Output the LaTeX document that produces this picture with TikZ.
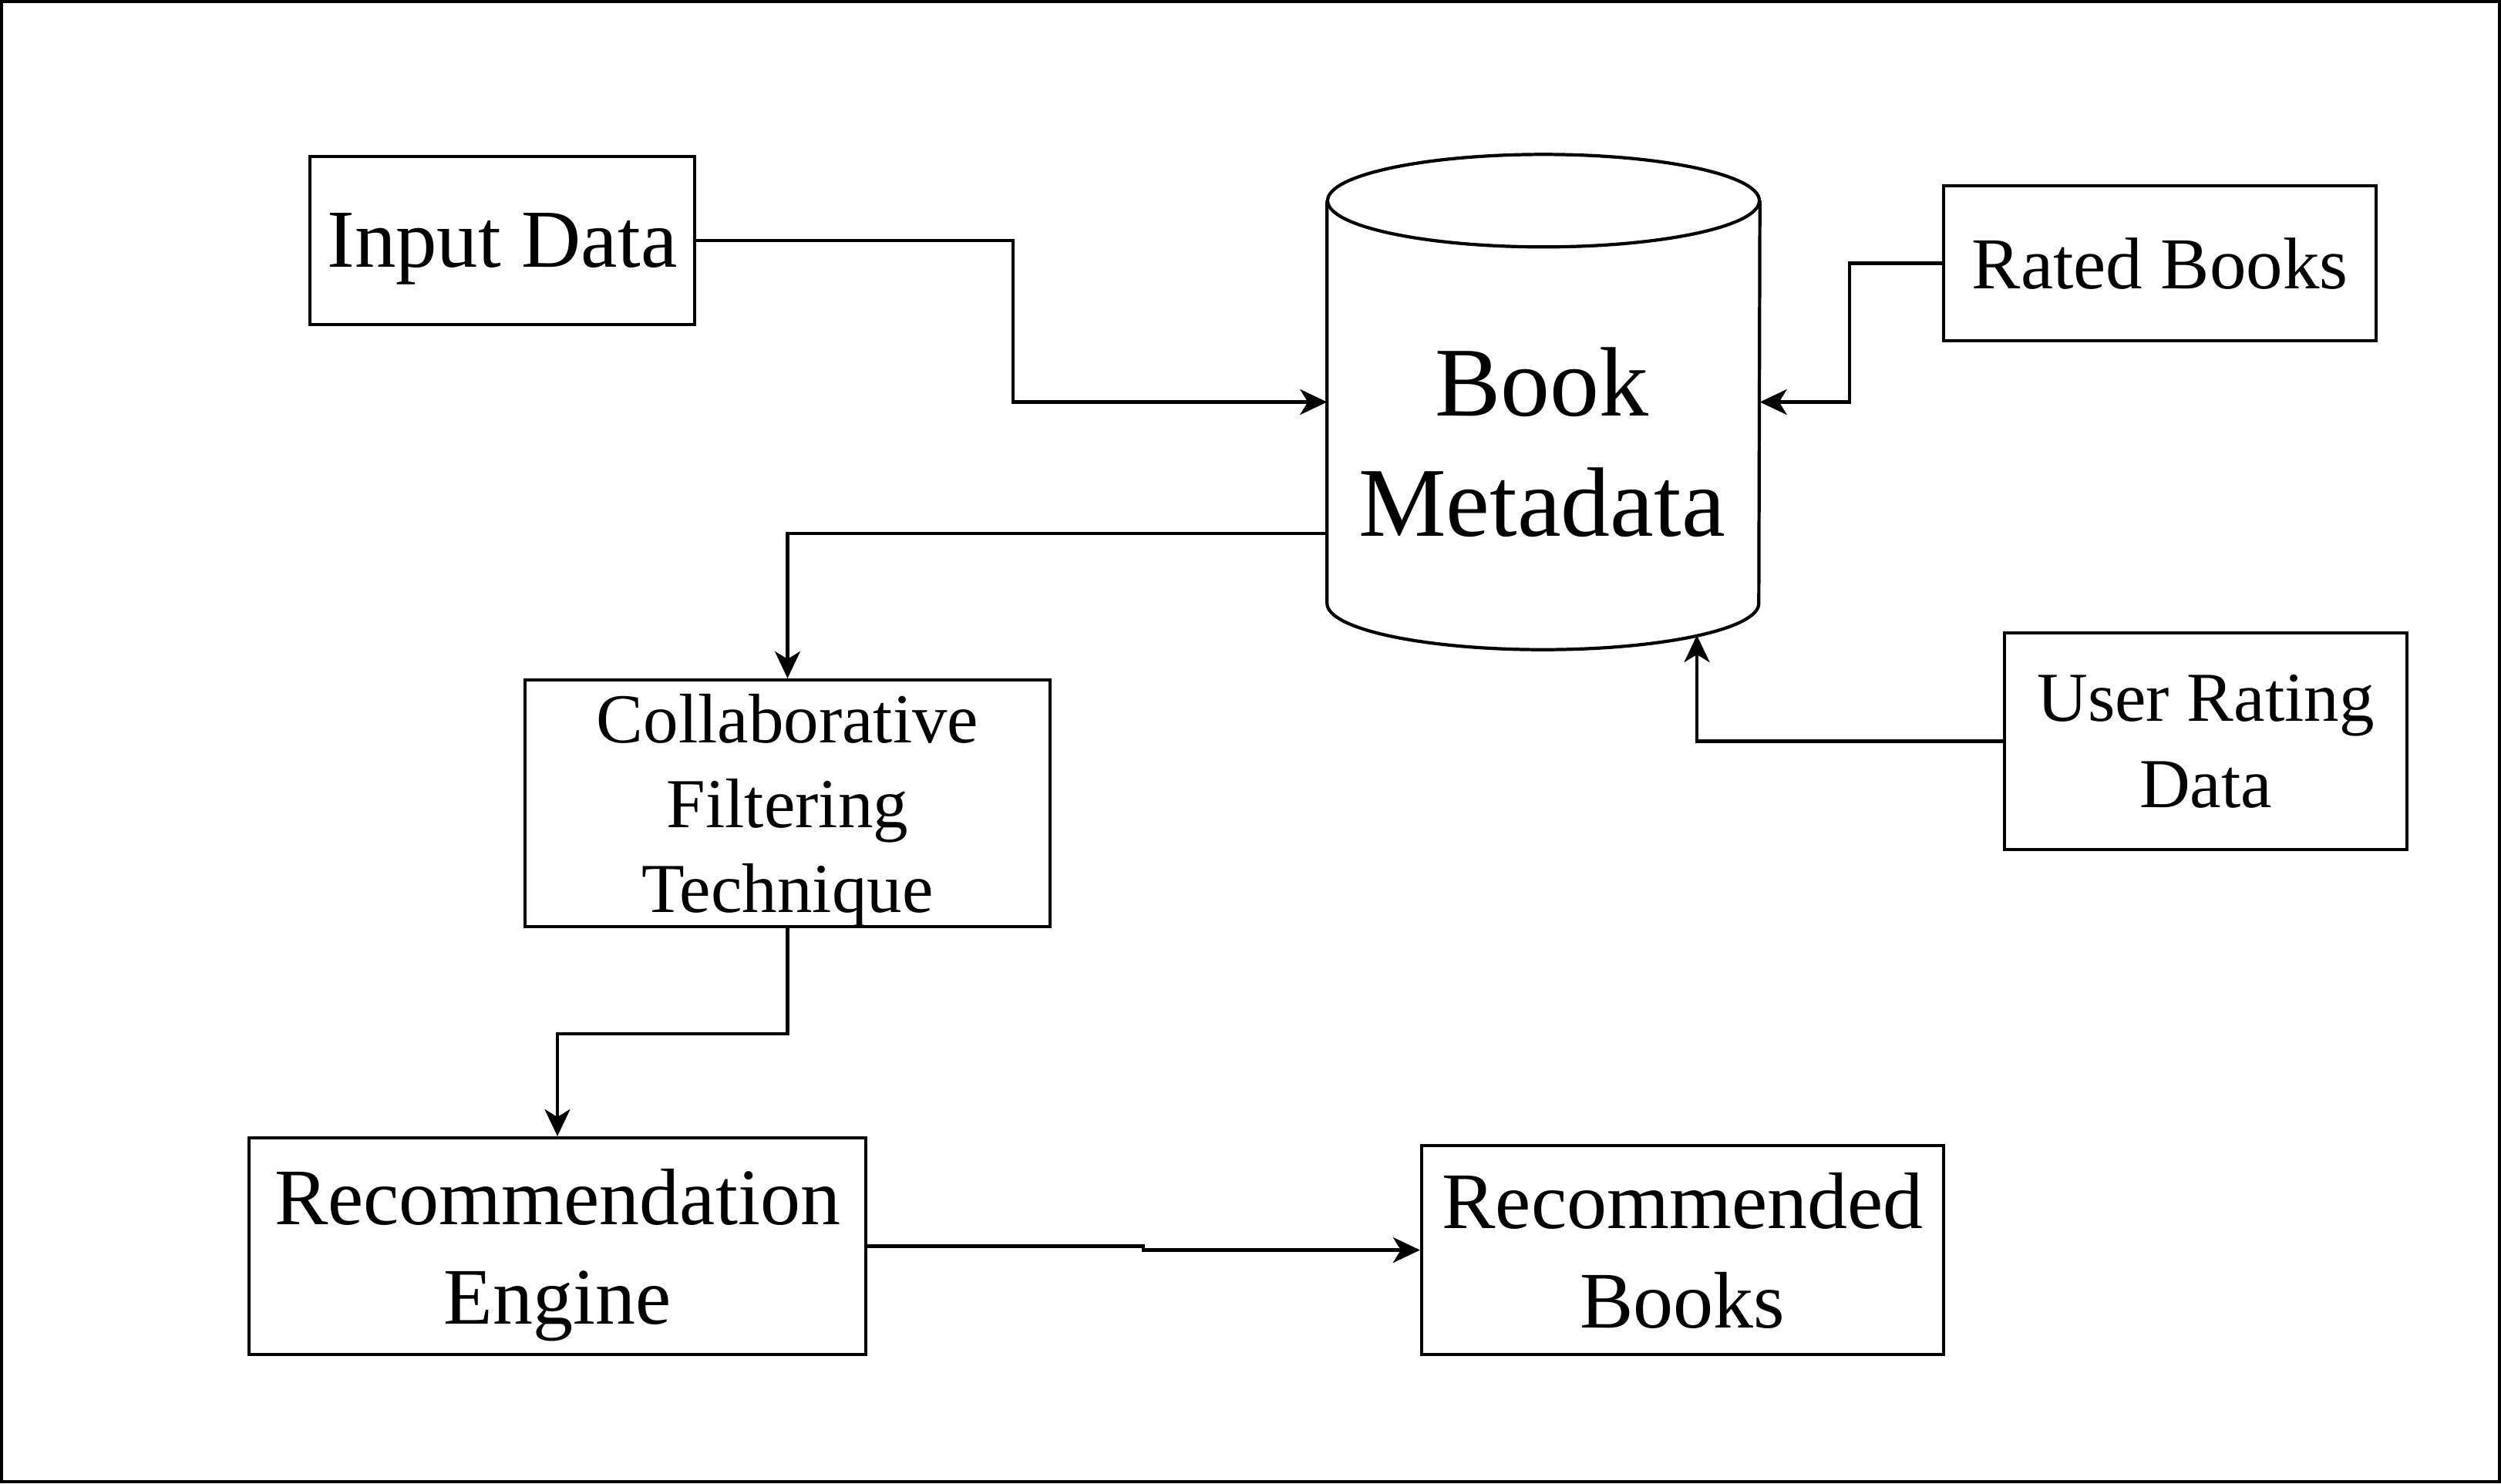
\documentclass[tikz,border=0pt]{standalone}
\usepackage{fontspec}
\setmainfont{Liberation Serif}
\usetikzlibrary{positioning,arrows.meta}

\begin{document}
\begin{tikzpicture}[
  box/.style={draw, line width=1.2pt, align=center, inner sep=0pt, text depth=0pt},
  arr/.style={line width=1.2pt, -{Stealth[length=0.35cm, width=0.33cm, inset=0.1cm]}}
]
% Frame
\useasboundingbox (0,0) rectangle (32.44,-19.24);
\draw[line width=1.2pt] (0.02,-0.02) rectangle (32.42,-19.22);

% Boxes
\node[box, minimum width=4.99cm, minimum height=2.18cm, font=\fontsize{30.4}{37}\selectfont] (in) at (6.515,-3.12) {Input Data};
\node[box, minimum width=5.61cm, minimum height=2.01cm, font=\fontsize{27}{33}\selectfont] (rated) at (28.015,-3.415) {Rated Books};
\node[box, minimum width=5.22cm, minimum height=2.81cm, font=\fontsize{25.9}{31.9}\selectfont] (user) at (28.61,-9.615) {User Rating\\Data};
\node[box, minimum width=6.81cm, minimum height=3.20cm, font=\fontsize{25.9}{31.3}\selectfont] (cf) at (10.215,-10.42) {Collaborative\\Filtering\\Technique};
\node[box, minimum width=8.00cm, minimum height=2.81cm, font=\fontsize{29.6}{36.7}\selectfont] (rec) at (7.23,-16.165) {Recommendation\\Engine};
\node[box, minimum width=6.77cm, minimum height=2.71cm, font=\fontsize{29.6}{36.7}\selectfont] (recd) at (21.825,-16.215) {Recommended\\Books};

% Database cylinder
\node[minimum width=5.6cm, minimum height=5.21cm, inner sep=0pt] (meta) at (20.02,-5.215) {};
\draw[line width=1.2pt] (meta.north west) -- (meta.south west) arc[start angle=180, end angle=360, x radius=2.8cm, y radius=0.6cm] -- (meta.north east);
\draw[line width=1.2pt] (meta.north) ellipse[x radius=2.8cm, y radius=0.6cm];
\node[align=center, inner sep=0pt, font=\fontsize{36.4}{44.4}\selectfont] (metatext) at (20.0,-5.733) {Book\\Metadata};
\coordinate (metabot) at (22.01,-8.24);

% Arrows
\draw[arr] (in.east) -- ++(4.11,0) |- (meta.west);
\draw[arr] (rated.west) -- ++(-1.2,0) |- (meta.east);
\draw[arr] (user.west) -| (metabot);
\draw[arr] ([yshift=-1.705cm]meta.west) -| (cf.north);
\draw[arr] (cf.south) -- ++(0,-1.37) -| (rec.north);
\draw[arr] (rec.east) -- ++(3.58,0) |- (recd.west);
\end{tikzpicture}
\end{document}
